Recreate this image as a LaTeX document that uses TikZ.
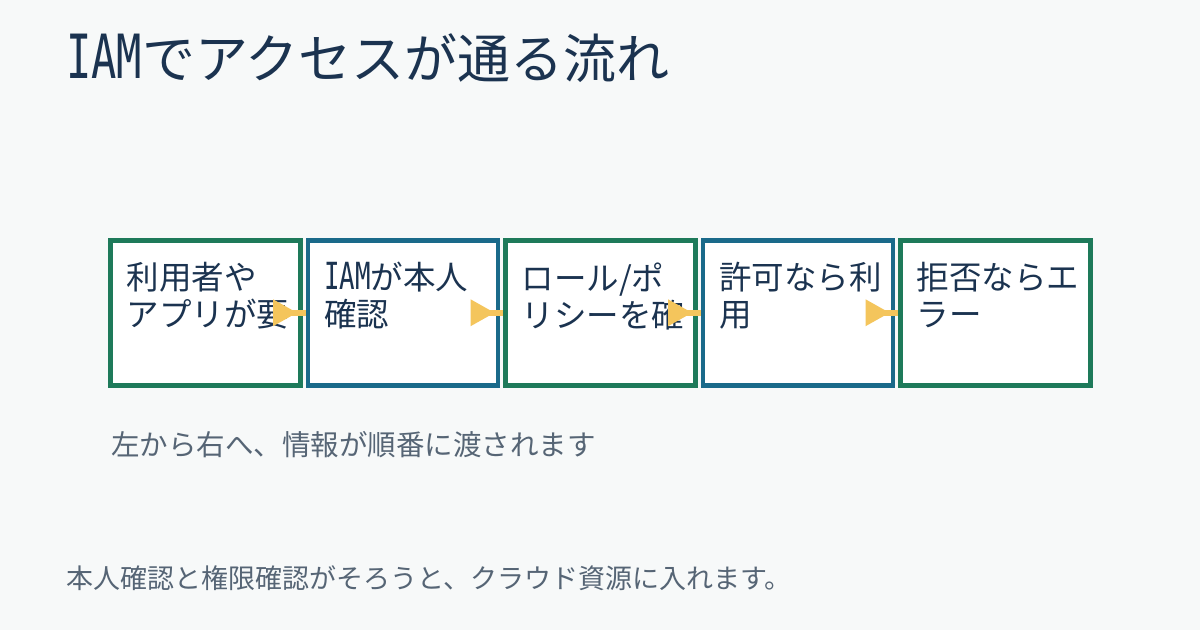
\documentclass[tikz,border=0pt]{standalone}
\usepackage{fontspec}
\setmainfont{Noto Sans CJK JP}
\newfontfamily\monofont[Scale=1.15,FakeStretch=0.69]{DejaVu Sans Mono}
\usetikzlibrary{positioning}
\definecolor{bg}{HTML}{F7F9F9}
\definecolor{ink}{HTML}{1B3350}
\definecolor{note}{HTML}{566575}
\definecolor{stepgreen}{HTML}{1E7A5A}
\definecolor{stepblue}{HTML}{1A6A8A}
\definecolor{flow}{HTML}{F4C55C}
\newcommand{\iam}{{\monofont IAM}}

\begin{document}
\begin{tikzpicture}
      [x=1pt,y=-1pt,
       stage/.style={draw,line width=4.5pt,fill=white,minimum width=190pt,
         minimum height=145pt,inner sep=0pt,outer sep=0pt},
       stagetext/.style={anchor=north west,align=left,inner sep=0pt,text=ink,
         font=\fontsize{32.5}{37}\selectfont},
       flowline/.style={draw=flow,line width=5.5pt},
       node distance=7.5pt]
      \fill[bg] (0,0) rectangle (1200,630);
      \node[anchor=base west,inner sep=0pt,text=ink,font=\fontsize{53}{62}\selectfont]
        (title) at (66,78) {\iam でアクセスが通る流れ};
      % steps
      \node[stage,draw=stepgreen] (s1) at (205.5,312.75) {};
      \node[stage,draw=stepblue,right=of s1] (s2) {};
      \node[stage,draw=stepgreen,right=of s2] (s3) {};
      \node[stage,draw=stepblue,right=of s3] (s4) {};
      \node[stage,draw=stepgreen,right=of s4] (s5) {};
      \node[stagetext] (t1) at ([shift={(16,22)}]s1.north west) {利用者や\\アプリが要};
      \node[stagetext] (t2) at ([shift={(16,22)}]s2.north west) {\iam が本人\\確認};
      \node[stagetext] (t3) at ([shift={(16,22)}]s3.north west) {ロール/ポ\\リシーを確};
      \node[stagetext] (t4) at ([shift={(16,22)}]s4.north west) {許可なら利\\用};
      \node[stagetext] (t5) at ([shift={(16,22)}]s5.north west) {拒否ならエ\\ラー};
      % arrows
      \fill[flow] ([shift={(-27.5,-13.5)}]s1.east) -- ([xshift=-3.5pt]s1.east) -- ([shift={(-27.5,13.5)}]s1.east) -- cycle;
      \draw[flowline] ([xshift=-10pt]s1.east) -- ([xshift=-2.25pt]s2.west);
      \fill[flow] ([shift={(-27.5,-13.5)}]s2.east) -- ([xshift=-3.5pt]s2.east) -- ([shift={(-27.5,13.5)}]s2.east) -- cycle;
      \draw[flowline] ([xshift=-10pt]s2.east) -- ([xshift=-2.25pt]s3.west);
      \fill[flow] ([shift={(-27.5,-13.5)}]s3.east) -- ([xshift=-3.5pt]s3.east) -- ([shift={(-27.5,13.5)}]s3.east) -- cycle;
      \draw[flowline] ([xshift=-10pt]s3.east) -- ([xshift=-2.25pt]s4.west);
      \fill[flow] ([shift={(-27.5,-13.5)}]s4.east) -- ([xshift=-3.5pt]s4.east) -- ([shift={(-27.5,13.5)}]s4.east) -- cycle;
      \draw[flowline] ([xshift=-10pt]s4.east) -- ([xshift=-2.25pt]s5.west);
      % notes
      \node[anchor=base west,inner sep=0pt,text=note,font=\fontsize{28.5}{34}\selectfont]
        (flownote) at (111,455) {左から右へ、情報が順番に渡されます};
      \node[anchor=base west,inner sep=0pt,text=note,font=\fontsize{27}{32}\selectfont]
        (summary) at (66,588) {本人確認と権限確認がそろうと、クラウド資源に入れます。};
    \end{tikzpicture}
\end{document}
